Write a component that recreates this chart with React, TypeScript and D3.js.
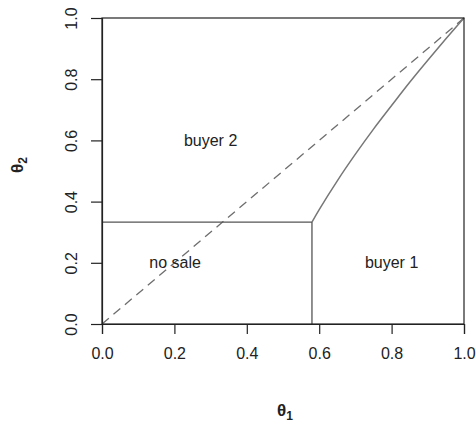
import React, { useEffect, useRef } from 'react';
import * as d3 from 'd3';

// tick values on both axes
const xTicks = [0, 0.2, 0.4, 0.6, 0.8, 1.0];
const yTicks = [0, 0.2, 0.4, 0.6, 0.8, 1.0];

// region boundaries
const reserve1 = 0.58;
const reserve2 = 0.333;
const boundaryX = [0.58, 0.6, 0.65, 0.7, 0.75, 0.8, 0.85, 0.9, 0.95, 1.0];
const boundaryY = [0.333, 0.374, 0.468, 0.555, 0.637, 0.714, 0.79, 0.862, 0.932, 1.0];
const diagonal = [[0, 0], [1, 1]];

const regionLabels = [
  { text: 'buyer 2', x: 0.3, y: 0.6 },
  { text: 'no sale', x: 0.202, y: 0.2 },
  { text: 'buyer 1', x: 0.8, y: 0.2 },
];

const App: React.FC = () => {
  const svgRef = useRef<SVGSVGElement>(null);

  useEffect(() => {
    if (!svgRef.current) return;
    const svg = d3.select(svgRef.current);
    svg.selectAll('*').remove();

    const margin = { top: 18, right: 12, bottom: 98, left: 102 };
    const W = 476, H = 422;
    const x = d3.scaleLinear().domain([0, 1]).range([margin.left, W - margin.right]);
    const y = d3.scaleLinear().domain([0, 1]).range([H - margin.bottom, margin.top]);
    const font = 'Liberation Sans, Arial, sans-serif';
    const ink = '#222';

    // dashed diagonal
    svg.append('line')
      .attr('x1', x(diagonal[0][0])).attr('y1', y(diagonal[0][1]))
      .attr('x2', x(diagonal[1][0])).attr('y2', y(diagonal[1][1]))
      .attr('stroke', '#6e6e6e').attr('stroke-width', 1.3)
      .attr('stroke-dasharray', '9,6');

    // no sale region lines
    svg.append('line')
      .attr('x1', x(0)).attr('y1', y(reserve2))
      .attr('x2', x(reserve1)).attr('y2', y(reserve2))
      .attr('stroke', '#555').attr('stroke-width', 1.3);
    svg.append('line')
      .attr('x1', x(reserve1)).attr('y1', y(0))
      .attr('x2', x(reserve1)).attr('y2', y(reserve2))
      .attr('stroke', '#555').attr('stroke-width', 1.3);

    // buyer 1 / buyer 2 boundary
    const pts = boundaryX.map((v, i) => [v, boundaryY[i]] as [number, number]);
    const line = d3.line<[number, number]>()
      .x(d => x(d[0])).y(d => y(d[1]))
      .curve(d3.curveCatmullRom);
    svg.append('path')
      .attr('d', line(pts))
      .attr('fill', 'none')
      .attr('stroke', '#777').attr('stroke-width', 1.5);

    // box
    svg.append('rect')
      .attr('x', x(0)).attr('y', y(1))
      .attr('width', x(1) - x(0)).attr('height', y(0) - y(1))
      .attr('fill', 'none').attr('stroke', ink).attr('stroke-width', 1.2);

    // x axis
    const xAxis = svg.append('g')
      .attr('transform', `translate(0,${y(0)})`)
      .call(d3.axisBottom(x).tickValues(xTicks).tickFormat(d3.format('.1f')).tickSize(10).tickPadding(14));
    xAxis.select('.domain').attr('stroke', ink).attr('stroke-width', 1.2);
    xAxis.selectAll('.tick line').attr('stroke', ink).attr('stroke-width', 1.2);
    xAxis.selectAll('.tick text')
      .attr('font-family', font).attr('font-size', 16).attr('fill', ink);

    // y axis with rotated labels
    const yAxis = svg.append('g')
      .attr('transform', `translate(${x(0)},0)`)
      .call(d3.axisLeft(y).tickValues(yTicks).tickFormat(d3.format('.1f')).tickSize(11));
    yAxis.select('.domain').attr('stroke', ink).attr('stroke-width', 1.2);
    yAxis.selectAll('.tick line').attr('stroke', ink).attr('stroke-width', 1.2);
    yAxis.selectAll('.tick text')
      .attr('font-family', font).attr('font-size', 16).attr('fill', ink)
      .attr('x', null).attr('dy', null)
      .attr('text-anchor', 'middle')
      .attr('transform', 'translate(-25,0) rotate(-90)');

    // region labels
    svg.selectAll('text.region')
      .data(regionLabels)
      .enter()
      .append('text')
      .attr('class', 'region')
      .attr('x', d => x(d.x)).attr('y', d => y(d.y))
      .attr('dy', '0.35em')
      .attr('text-anchor', 'middle')
      .attr('font-family', font).attr('font-size', 16).attr('fill', ink)
      .text(d => d.text);

    // axis titles
    const t1 = svg.append('text')
      .attr('x', 285).attr('y', 416)
      .attr('text-anchor', 'middle')
      .attr('font-family', font).attr('font-size', 17).attr('font-weight', 'bold').attr('fill', ink);
    t1.append('tspan').text('θ');
    t1.append('tspan').attr('font-size', 12).attr('dy', 4).text('1');

    const t2 = svg.append('text')
      .attr('transform', 'translate(23,165) rotate(-90)')
      .attr('text-anchor', 'middle')
      .attr('font-family', font).attr('font-size', 17).attr('font-weight', 'bold').attr('fill', ink);
    t2.append('tspan').text('θ');
    t2.append('tspan').attr('font-size', 12).attr('dy', 4).text('2');
  }, []);

  return (
    <svg
      ref={svgRef}
      width={476}
      height={422}
      style={{ position: 'absolute', left: 0, top: 0, background: '#fff' }}
    />
  );
};

export default App;
